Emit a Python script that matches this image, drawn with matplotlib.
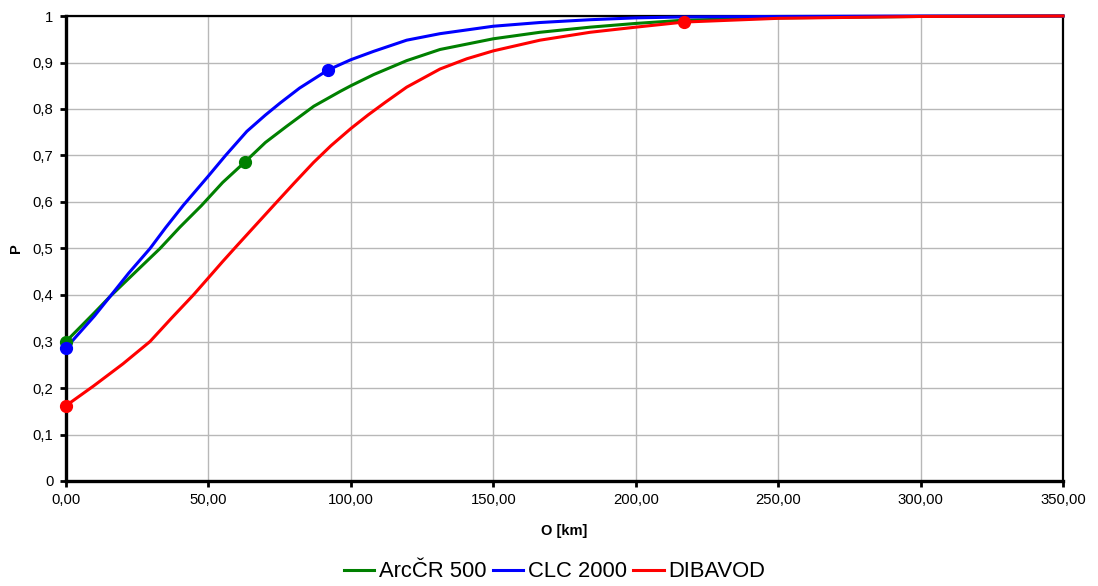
import matplotlib.pyplot as plt
from matplotlib.ticker import FuncFormatter, MultipleLocator

plt.rcParams["font.family"] = ["Liberation Sans", "DejaVu Sans"]

# Odečtené body křivek (O [km], P)
arc_x = [0, 10, 15.5, 25, 33, 40, 47.5, 55, 62.8, 70, 77.5, 87, 96.3, 100, 108, 119.6, 131.3, 150,
         166.4, 184, 200, 217, 250, 300, 350]
arc_y = [0.300, 0.362, 0.397, 0.453, 0.500, 0.546, 0.592, 0.642, 0.686, 0.728, 0.763, 0.806, 0.838,
         0.850, 0.874, 0.904, 0.928, 0.951, 0.965, 0.976, 0.984, 0.991, 0.996, 0.999, 1.0]

clc_x = [0, 10, 15.5, 22, 29.5, 35, 41.2, 50, 56, 63.5, 70, 75.2, 82, 92, 100, 108, 119.6, 131.3,
         150, 166.4, 184, 200, 217, 250, 300, 350]
clc_y = [0.286, 0.355, 0.397, 0.447, 0.500, 0.545, 0.593, 0.656, 0.700, 0.752, 0.787, 0.813, 0.845,
         0.884, 0.906, 0.924, 0.948, 0.962, 0.978, 0.986, 0.992, 0.996, 0.998, 0.999, 1.0, 1.0]

dib_x = [0, 9.6, 20, 29.5, 37, 44.7, 50, 55, 60, 67, 74, 80, 86.9, 93, 100, 106, 112, 119.6, 131.3,
         140.7, 150, 166.4, 184, 200, 217, 250, 300, 350]
dib_y = [0.162, 0.204, 0.252, 0.300, 0.350, 0.400, 0.437, 0.472, 0.506, 0.553, 0.600, 0.640, 0.685,
         0.721, 0.758, 0.787, 0.814, 0.847, 0.886, 0.908, 0.925, 0.948, 0.965, 0.976, 0.987, 0.995,
         0.999, 1.0]

# Body se značkami
arc_mx, arc_my = [0, 62.8], [0.300, 0.686]
clc_mx, clc_my = [0, 92], [0.286, 0.884]
dib_mx, dib_my = [0, 217], [0.162, 0.987]

names = ["ArcČR 500", "CLC 2000", "DIBAVOD"]
colors = ["#008000", "#0000ff", "#ff0000"]

fig = plt.figure(figsize=(10.98, 5.86), dpi=100)
ax = fig.add_axes([66 / 1098, 1 - 481 / 586, (1063 - 66) / 1098, (481 - 16) / 586])

series = [(arc_x, arc_y, arc_mx, arc_my), (clc_x, clc_y, clc_mx, clc_my), (dib_x, dib_y, dib_mx, dib_my)]
for (x, y, mx, my), name, c in zip(series, names, colors):
    ax.plot(x, y, color=c, lw=2.2, label=name, clip_on=False, zorder=4, solid_joinstyle="round")
    ax.plot(mx, my, "o", color=c, ms=8.5, clip_on=False, zorder=5)

ax.set_xlim(0, 350)
ax.set_ylim(0, 1)
ax.xaxis.set_major_locator(MultipleLocator(50))
ax.yaxis.set_major_locator(MultipleLocator(0.1))
ax.xaxis.set_major_formatter(FuncFormatter(lambda v, p: f"{v:.2f}".replace(".", ",")))
ax.yaxis.set_major_formatter(FuncFormatter(lambda v, p: f"{v:.1f}".replace(".", ",").replace(",0", "")))

ax.grid(True, color="#b8b8b8", lw=1)
ax.set_axisbelow(True)
for side in ["left", "bottom"]:
    ax.spines[side].set_linewidth(2.4)
for side in ["top", "right"]:
    ax.spines[side].set_linewidth(1.6)
ax.tick_params(direction="out", length=4, width=2, labelsize=10.7, colors="black", pad=5)

ax.set_xlabel("O [km]", fontsize=10.5, fontweight="bold", labelpad=12)
ax.set_ylabel("P", fontsize=10.5, fontweight="bold", labelpad=7)

handles = ax.get_lines()[0::2]
fig.legend(handles, names, loc="center", bbox_to_anchor=(0.505, 0.024), ncol=3, frameon=False,
           fontsize=15.8, handlelength=1.4, handletextpad=0.2, columnspacing=0.3, borderaxespad=0)

fig.savefig("out.png", dpi=100)
